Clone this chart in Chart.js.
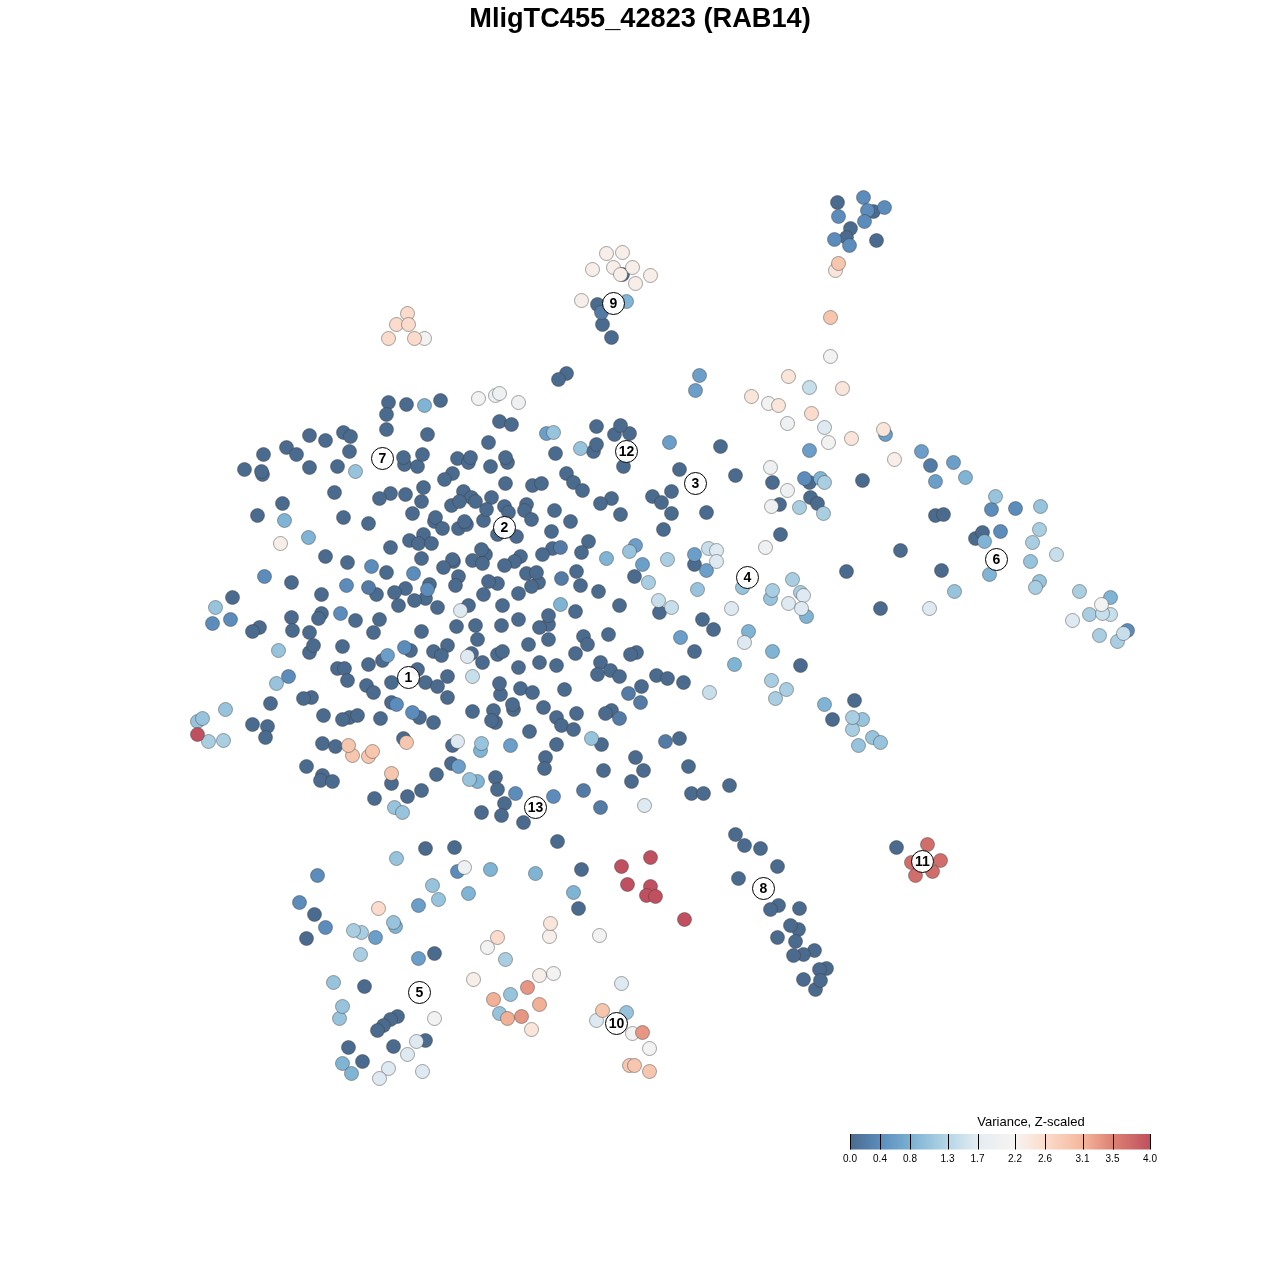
<!DOCTYPE html>
<html>
<head>
<meta charset="utf-8">
<title>MligTC455_42823 (RAB14)</title>
<script src="https://cdn.jsdelivr.net/npm/chart.js@4"></script>
<style>
  html, body { margin: 0; background: #fff; }
  #page { position: relative; width: 1280px; height: 1280px; font-family: "Liberation Sans", Arial, sans-serif; }
  #plotTitle { position: absolute; left: 0; top: 3px; width: 1280px; margin: 0; text-align: center; font-size: 27.2px; line-height: 30px; font-weight: bold; color: #000; z-index: 2; }
  #legendTitle { position: absolute; left: 931px; top: 1114px; width: 200px; text-align: center; font-size: 13px; line-height: 16px; color: #000; z-index: 2; }
  #mainChart { position: absolute; left: 0; top: 0; }
  #legendChart { position: absolute; left: 830px; top: 1111px; }
</style>
</head>
<body>
<div id="page">
  <h1 id="plotTitle">MligTC455_42823 (RAB14)</h1>
  <canvas id="mainChart" width="1280" height="1280"></canvas>
  <canvas id="legendChart" width="360" height="60"></canvas>
  <div id="legendTitle">Variance, Z-scaled</div>
</div>
<script>
// cells, one list per colour level, [x, y] in image units
const level00 = [[837,202],[873,211],[850,228],[846,237],[876,240],[566,373],[558,379],[622,274],[597,304],[602,324],[611,337],
  [388,402],[406,404],[440,400],[386,414],[386,429],[427,434],[309,435],[343,432],[350,436],[325,440],[286,447],[296,454],[263,454],[349,451],
  [244,469],[262,474],[261,471],[309,467],[337,466],[404,464],[403,457],[417,466],[422,454],[457,458],[468,462],[470,457],[452,473],[444,479],
  [334,492],[282,503],[257,515],[343,517],[368,523],[390,493],[379,498],[405,494],[423,487],[421,501],[412,513],[463,491],[471,497],[475,501],
  [451,505],[459,501],[434,521],[435,517],[442,528],[458,528],[466,524],[464,521],[483,520],[423,534],[409,540],[418,543],[431,543],[390,547],
  [325,556],[347,562],[421,558],[453,561],[452,559],[443,567],[472,560],[485,554],[482,563],[481,549],[386,572],[458,576],[455,585],[291,582],
  [405,588],[394,592],[376,594],[429,584],[425,598],[414,600],[398,605],[437,607],[468,605],[321,594],[232,597],[321,613],[318,618],[291,617],
  [292,630],[355,620],[379,619],[373,632],[309,632],[259,627],[252,631],[421,631],[456,626],[475,625],[477,639],[309,652],[313,645],[342,646],
  [433,651],[447,645],[441,655],[410,650],[382,660],[471,653],[337,668],[344,668],[368,664],[347,680],[417,669],[482,662],[447,676],[366,685],
  [373,692],[391,682],[425,682],[437,686],[447,697],[472,711],[391,702],[419,717],[433,722],[380,718],[349,717],[357,715],[342,719],[323,715],
  [311,697],[303,698],[270,703],[252,724],[267,726],[265,737],[322,743],[335,746],[403,738],[306,766],[322,775],[320,780],[332,781],[391,783],
  [436,774],[451,763],[452,745],[421,790],[407,796],[374,798],[499,421],[511,424],[488,442],[490,466],[507,462],[505,457],[505,483],[532,485],
  [541,483],[555,453],[596,426],[593,451],[596,444],[629,433],[614,434],[620,425],[623,466],[720,446],[679,469],[735,475],[671,491],[652,496],
  [661,502],[671,513],[706,512],[663,529],[566,473],[573,482],[582,490],[611,498],[600,503],[620,514],[491,497],[486,509],[504,506],[508,512],
  [526,504],[524,510],[531,519],[554,510],[570,521],[497,534],[516,536],[551,531],[588,541],[581,552],[552,548],[542,554],[520,556],[514,561],
  [504,565],[497,583],[488,581],[483,594],[502,605],[518,593],[526,573],[538,582],[536,572],[531,586],[576,571],[580,585],[598,591],[634,576],
  [659,612],[619,605],[575,611],[518,619],[501,625],[548,624],[548,615],[539,627],[548,639],[528,644],[583,636],[587,644],[608,634],[575,653],
  [600,662],[610,670],[597,674],[619,676],[656,675],[667,678],[702,619],[713,629],[694,651],[636,652],[630,654],[539,662],[556,665],[518,667],
  [497,654],[502,651],[694,564],[683,682],[641,686],[500,694],[499,683],[520,688],[532,692],[564,689],[495,722],[493,710],[491,720],[513,709],
  [512,704],[543,707],[556,717],[561,725],[573,729],[576,713],[611,710],[605,713],[529,731],[556,744],[545,757],[544,768],[601,744],[679,738],
  [635,757],[643,770],[603,770],[631,781],[688,766],[691,793],[703,793],[729,785],[495,777],[497,789],[504,803],[481,812],[501,815],[523,822],
  [557,841],[425,848],[454,847],[581,869],[578,908],[772,482],[809,482],[810,497],[817,503],[779,504],[862,480],[935,515],[943,514],[780,534],
  [900,550],[846,571],[941,570],[880,608],[975,538],[982,532],[800,665],[854,700],[832,719],[735,834],[744,845],[760,848],[777,866],[738,878],
  [778,905],[770,909],[799,908],[798,929],[790,925],[777,937],[795,941],[814,950],[803,954],[793,955],[826,968],[819,969],[803,979],[815,989],
  [820,980],[896,847],[314,914],[306,938],[434,953],[364,986],[397,1016],[390,1019],[383,1025],[377,1030],[425,1040],[348,1047],[393,1046],[362,1061]];
const level02 = [[601,312],[930,465],[665,741],[628,693],[583,790],[600,807],[560,547],[561,578],[619,718],[640,702],[368,587]];
const level04 = [[863,197],[867,210],[884,207],[838,216],[864,221],[834,239],[849,245],[264,576],[371,566],[413,573],[346,585],[427,589],[340,613],
  [230,619],[212,623],[404,647],[288,676],[396,704],[412,712],[317,875],[457,871],[515,793],[553,796],[991,509],[1015,508],[1000,531],[1127,630],
  [804,478],[299,902],[325,927]];
const level06 = [[699,375],[695,390],[669,442],[809,450],[921,451],[953,462],[935,481],[885,434],[546,433],[635,545],[642,564],[694,554],[706,570],
  [680,637],[510,745],[458,766],[387,655],[418,905],[375,937],[418,958]];
const level08 = [[424,405],[284,520],[308,537],[606,558],[560,604],[965,477],[820,478],[626,301],[480,750],[477,781],[535,873],[573,892],[468,893],
  [342,1063],[351,1073],[395,926],[806,616],[1110,597],[748,631],[772,651],[989,574],[984,541],[734,664],[824,704],[490,869]];
const level10 = [[355,471],[580,448],[553,432],[481,743],[591,738],[469,779],[396,858],[278,650],[276,683],[394,807],[402,812],[225,709],[197,721],
  [202,718],[215,607],[629,551],[697,589],[742,587],[995,496],[1040,506],[1030,561],[1039,581],[954,591],[770,598],[510,994],[626,1012],[393,922],
  [432,885],[438,899],[872,737],[880,742],[858,745],[862,719],[339,1018],[342,1006],[333,982],[499,1013]];
const level12 = [[208,741],[223,740],[667,559],[648,582],[771,680],[775,698],[772,590],[800,592],[852,729],[852,717],[1039,529],[1032,542],[1035,587],
  [1079,591],[1089,614],[1099,635],[1117,641],[361,932],[353,930],[360,954],[505,959],[799,507],[823,513],[824,482],[786,689],[792,579]];
const level14 = [[809,387],[658,600],[671,607],[708,548],[709,692],[1056,554],[1110,614],[1102,613],[1123,633],[472,676]];
const level16 = [[460,610],[467,656],[644,805],[731,608],[824,427],[788,603],[929,608],[621,983],[596,1020],[416,1041],[407,1054],[388,1068],[379,1078],
  [422,1071],[716,550],[716,561],[803,595],[801,608],[744,642],[457,741],[1072,620]];
const level19 = [[495,395],[499,393],[518,402],[770,467],[787,490],[771,506],[765,547],[787,423],[464,867]];
const level21 = [[478,398],[830,356],[768,403],[828,442],[424,338],[1101,604],[487,947],[553,973],[434,1018],[599,935],[632,1033],[649,1048]];
const level23 = [[280,543],[606,253],[622,252],[592,269],[613,267],[632,267],[650,275],[635,283],[620,274],[581,300],[473,979],[894,459],[549,936],[539,975]];
const level24 = [[788,376],[842,388],[751,396],[778,405],[851,438],[883,429],[835,270],[531,1029],[550,923]];
const level26 = [[407,313],[396,324],[408,324],[388,338],[414,338],[811,413],[378,908],[497,937]];
const level29 = [[838,263],[830,317],[352,755],[348,745],[368,756],[372,751],[406,742],[391,773],[602,1010],[629,1065],[634,1065],[649,1071]];
const level31 = [[493,999],[539,1004],[507,1018]];
const level33 = [[527,987],[521,1016],[642,1032]];
const level37 = [[927,844],[940,860],[911,862],[932,871],[915,875]];
const level40 = [[197,734],[621,866],[650,857],[627,884],[650,886],[646,895],[655,896],[684,919]];

const levels = [
  [0.0, level00], [0.2, level02], [0.4, level04], [0.6, level06], [0.85, level08], [1.05, level10],
  [1.2, level12], [1.45, level14], [1.65, level16], [1.95, level19], [2.1, level21], [2.3, level23],
  [2.45, level24], [2.6, level26], [2.9, level29], [3.15, level31], [3.35, level33], [3.7, level37], [4.0, level40],
];

const clusterNames = ["1", "2", "3", "4", "5", "6", "7", "8", "9", "10", "11", "12", "13"];
const clusterX = [408, 504, 695, 747, 419, 996, 382, 763, 613, 616, 922, 626, 535];
const clusterY = [677, 527, 483, 577, 992, 559, 458, 888, 303, 1023, 861, 451, 807];

const legendTicks = [0.0, 0.4, 0.8, 1.3, 1.7, 2.2, 2.6, 3.1, 3.5, 4.0];
const legendColors = ["#4a6a8e", "#5b8cbc", "#7ab0d3", "#b5d6e6", "#e4ecf2", "#f7f4f2", "#fbdccc", "#f5b79c", "#dd8273", "#c0505f"];

function hexToRgb(hex) {
  return [1, 3, 5].map((i) => parseInt(hex.slice(i, i + 2), 16));
}

function colorFor(v) {
  let i = 0;
  while (i < legendTicks.length - 2 && v > legendTicks[i + 1]) i++;
  const t = (v - legendTicks[i]) / (legendTicks[i + 1] - legendTicks[i]);
  const a = hexToRgb(legendColors[i]);
  const b = hexToRgb(legendColors[i + 1]);
  const c = a.map((n, k) => Math.round(n + (b[k] - n) * t));
  return `rgb(${c[0]}, ${c[1]}, ${c[2]})`;
}

// first dataset ends up on top, so: cluster badges, then high values down to low
const datasets = [{
  data: clusterX.map((x, i) => ({ x, y: clusterY[i] })),
  pointRadius: 11,
  backgroundColor: "rgba(255, 255, 255, 0.95)",
  borderColor: "#000",
  borderWidth: 1,
}];
for (const [value, cells] of levels.slice().reverse()) {
  datasets.push({
    data: cells.map((c) => ({ x: c[0], y: c[1] })),
    pointRadius: 7,
    backgroundColor: colorFor(value),
    borderColor: "rgba(60, 60, 60, 0.45)",
    borderWidth: 1,
  });
}

const clusterText = {
  id: "clusterText",
  afterDatasetsDraw(chart) {
    const ctx = chart.ctx;
    ctx.save();
    ctx.font = 'bold 14px "Liberation Sans"';
    ctx.fillStyle = "#000";
    ctx.textAlign = "center";
    ctx.textBaseline = "middle";
    clusterNames.forEach((name, i) => {
      ctx.fillText(name, chart.scales.x.getPixelForValue(clusterX[i]), chart.scales.y.getPixelForValue(clusterY[i]) + 0.5);
    });
    ctx.restore();
  },
};

new Chart(document.getElementById("mainChart"), {
  type: "scatter",
  data: { datasets },
  plugins: [clusterText],
  options: {
    responsive: false,
    animation: false,
    layout: { padding: 0, autoPadding: false },
    plugins: { legend: { display: false }, tooltip: { enabled: false } },
    scales: {
      x: { type: "linear", min: -0.5, max: 1279.5, display: false },
      y: { type: "linear", min: -0.5, max: 1279.5, reverse: true, display: false },
    },
  },
});

const legendGradient = {
  id: "legendGradient",
  beforeDatasetsDraw(chart) {
    const { ctx, chartArea, scales } = chart;
    const grad = ctx.createLinearGradient(chartArea.left, 0, chartArea.right, 0);
    legendTicks.forEach((v, i) => grad.addColorStop(v / 4, legendColors[i]));
    ctx.save();
    ctx.fillStyle = grad;
    ctx.fillRect(chartArea.left, chartArea.top, chartArea.width, chartArea.height);
    ctx.strokeStyle = "#000";
    ctx.lineWidth = 1;
    ctx.beginPath();
    for (const v of legendTicks) {
      const px = Math.round(scales.x.getPixelForValue(v)) + 0.5;
      ctx.moveTo(px, chartArea.top);
      ctx.lineTo(px, chartArea.bottom);
    }
    ctx.stroke();
    ctx.restore();
  },
};

new Chart(document.getElementById("legendChart"), {
  type: "scatter",
  data: { datasets: [{ data: [] }] },
  plugins: [legendGradient],
  options: {
    responsive: false,
    animation: false,
    layout: { padding: { left: 20, right: 40, top: 23, bottom: 6 } },
    plugins: { legend: { display: false }, tooltip: { enabled: false } },
    scales: {
      x: {
        type: "linear",
        min: 0,
        max: 4,
        grid: { display: false, drawTicks: false },
        border: { display: false },
        afterBuildTicks(axis) { axis.ticks = legendTicks.map((value) => ({ value })); },
        ticks: {
          color: "#000",
          autoSkip: false,
          maxRotation: 0,
          padding: 4,
          font: { family: "Liberation Sans", size: 10 },
          callback: (v) => Number(v).toFixed(1),
        },
      },
      y: { display: false, min: 0, max: 1 },
    },
  },
});
</script>
</body>
</html>
